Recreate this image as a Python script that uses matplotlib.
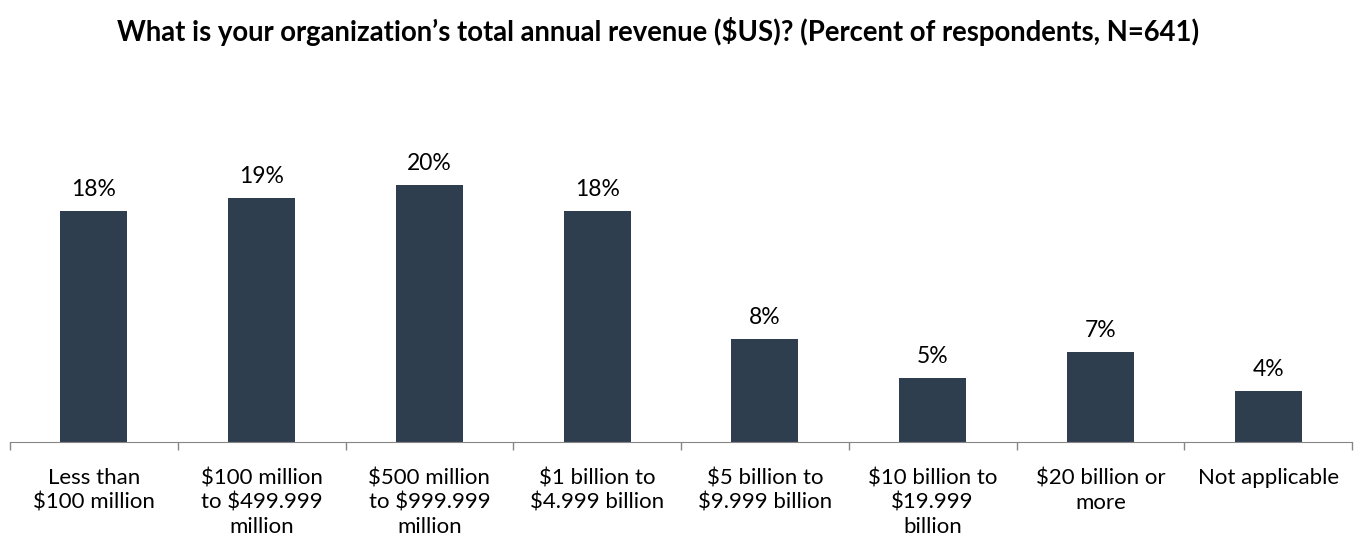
import matplotlib.pyplot as plt
import numpy as np

plt.rcParams['font.family'] = ['Lato', 'DejaVu Sans']

# categorias y porcentajes
categorias = ['Less than\n$100 million', '$100 million\nto $499.999\nmillion',
              '$500 million\nto $999.999\nmillion', '$1 billion to\n$4.999 billion',
              '$5 billion to\n$9.999 billion', '$10 billion to\n$19.999\nbillion',
              '$20 billion or\nmore', 'Not applicable']
porcentajes = [18, 19, 20, 18, 8, 5, 7, 4]

titulo = 'What is your organization\u2019s total annual revenue ($US)? (Percent of respondents, N=641)'

fig = plt.figure(figsize=(13.69, 5.56), dpi=100)
ax = fig.add_axes([10 / 1369, 114 / 556, 1342 / 1369, 320.8 / 556])

x = np.arange(len(categorias))
barras = ax.bar(x, porcentajes, width=0.4, color='#2F3E4F')

for b, v in zip(barras, porcentajes):
    ax.annotate(f'{v}%', (b.get_x() + b.get_width() / 2, v), xytext=(0, 8),
                textcoords='offset points', ha='center', va='bottom', fontsize=16.5)

ax.set_xlim(-0.5, len(categorias) - 0.5)
ax.set_ylim(0, 25)

# ticks en los limites, etiquetas en el centro
ax.set_xticks(np.arange(len(categorias) + 1) - 0.5)
ax.set_xticklabels([])
ax.set_xticks(x, minor=True)
ax.set_xticklabels(categorias, minor=True, fontsize=16, linespacing=1.28)
ax.tick_params(axis='x', which='major', length=8 * 0.72, color='#868686', width=1)
ax.tick_params(axis='x', which='minor', length=0, pad=19)

ax.set_yticks([])
for s in ['top', 'right', 'left']:
    ax.spines[s].set_visible(False)
ax.spines['bottom'].set_color('#868686')

fig.text(658 / 1369, 1 - 31 / 556, titulo, ha='center', va='center',
         fontsize=19.8, fontweight='bold')

fig.savefig('out.png', dpi=100)
